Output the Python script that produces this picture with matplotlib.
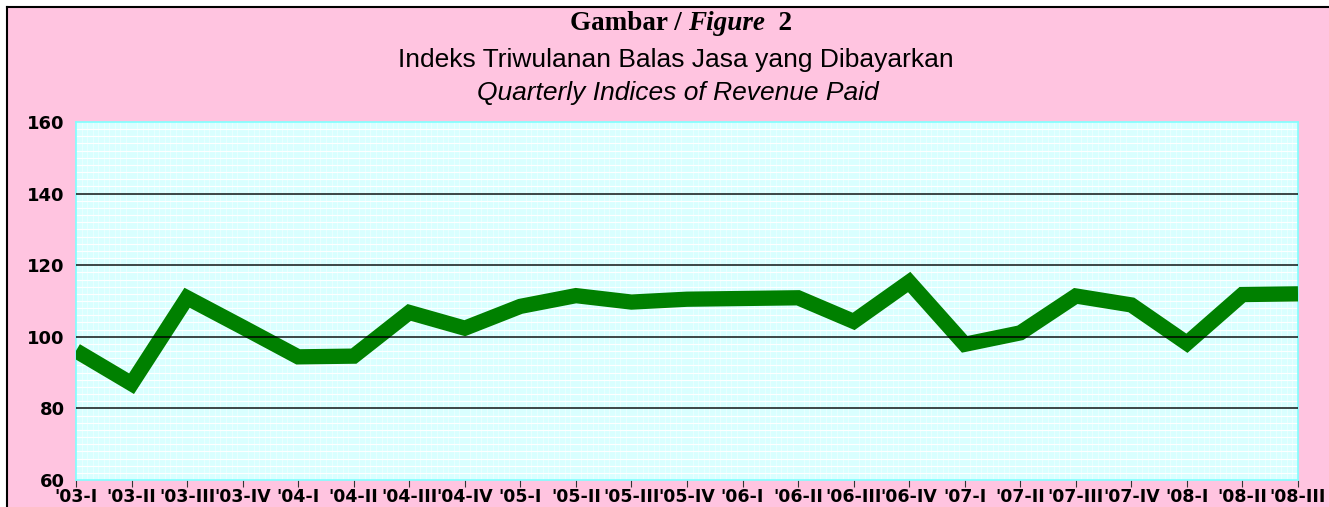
import matplotlib.pyplot as plt
import numpy as np
from matplotlib.lines import Line2D
from matplotlib.patches import Rectangle
from matplotlib.ticker import MultipleLocator

# Data
quarters = ["'03-I", "'03-II", "'03-III", "'03-IV",
            "'04-I", "'04-II", "'04-III", "'04-IV",
            "'05-I", "'05-II", "'05-III", "'05-IV",
            "'06-I", "'06-II", "'06-III", "'06-IV",
            "'07-I", "'07-II", "'07-III", "'07-IV",
            "'08-I", "'08-II", "'08-III"]
indices = [96.1, 86.9, 110.9, 102.7, 94.4, 94.6, 106.8, 102.4,
           108.5, 111.5, 109.7, 110.5, 110.7, 110.9, 104.3, 115.3,
           97.9, 101.1, 111.4, 108.9, 98.2, 111.8, 112.0]

W, H = 1329, 507
pink = '#FFC4E0'
cyan = '#D9FFFF'

fig = plt.figure(figsize=(W / 100, H / 100), dpi=100, facecolor='white')

# background panel with black top/left frame
fig.add_artist(Rectangle((7 / W, 0), 1 - 7 / W, 1 - 7 / H, transform=fig.transFigure,
                         facecolor=pink, edgecolor='none', zorder=0))
fig.add_artist(Line2D([7 / W, 1], [1 - 7 / H, 1 - 7 / H], transform=fig.transFigure,
                      color='black', lw=1.5, zorder=1))
fig.add_artist(Line2D([7 / W, 7 / W], [0, 1 - 7 / H], transform=fig.transFigure,
                      color='black', lw=1.5, zorder=1))

# title line 1, built from pieces laid side by side
pieces = [('Gambar / ', 'normal'), ('Figure', 'italic'), ('  2', 'normal')]
renderer = fig.canvas.get_renderer()
texts, widths = [], []
for s, st in pieces:
    t = fig.text(0, 1 - 23 / H, s, ha='left', va='center', family='Liberation Serif',
                 fontweight='bold', fontstyle=st, fontsize=19.5)
    widths.append(t.get_window_extent(renderer).width / W)
    texts.append(t)
x0 = 681 / W - sum(widths) / 2
for t, w in zip(texts, widths):
    t.set_x(x0)
    x0 += w

fig.text(676 / W, 1 - 60 / H, 'Indeks Triwulanan Balas Jasa yang Dibayarkan', ha='center', va='center',
         family='Liberation Sans', fontsize=19)
fig.text(678 / W, 1 - 93 / H, 'Quarterly Indices of Revenue Paid', ha='center', va='center',
         family='Liberation Sans', fontstyle='italic', fontsize=19)

ax = fig.add_axes([76 / W, 1 - 480 / H, (1298 - 76) / W, (480 - 122) / H])
ax.set_facecolor(cyan)

x = np.arange(len(quarters))
ax.plot(x, indices, color='#008000', lw=11, solid_joinstyle='miter', solid_capstyle='butt', zorder=3)

ax.set_xlim(0, len(quarters) - 1)
ax.set_ylim(60, 160)
ax.set_yticks([60, 80, 100, 120, 140, 160])
ax.set_xticks(x)
ax.set_xticklabels(quarters)

# dense light grid
ax.yaxis.set_minor_locator(MultipleLocator(2))
ax.xaxis.set_minor_locator(MultipleLocator(0.1))
ax.grid(True, which='minor', axis='y', color='white', lw=0.8, zorder=1)
ax.grid(True, which='minor', axis='x', color='white', lw=0.5, alpha=0.6, zorder=1)
for yv in [80, 100, 120, 140]:
    ax.axhline(yv, color='black', lw=1.2, alpha=0.85, zorder=4)

for s in ax.spines.values():
    s.set_color('#80FFFF')
    s.set_linewidth(1.2)

ax.tick_params(axis='y', which='both', length=0, pad=8, labelsize=13)
ax.tick_params(axis='x', which='major', length=5, color='#333333', pad=1, labelsize=12.5)
ax.tick_params(axis='x', which='minor', length=0)
for lab in ax.get_xticklabels() + ax.get_yticklabels():
    lab.set_fontweight('bold')

fig.savefig('out.png', dpi=100, facecolor='white')
